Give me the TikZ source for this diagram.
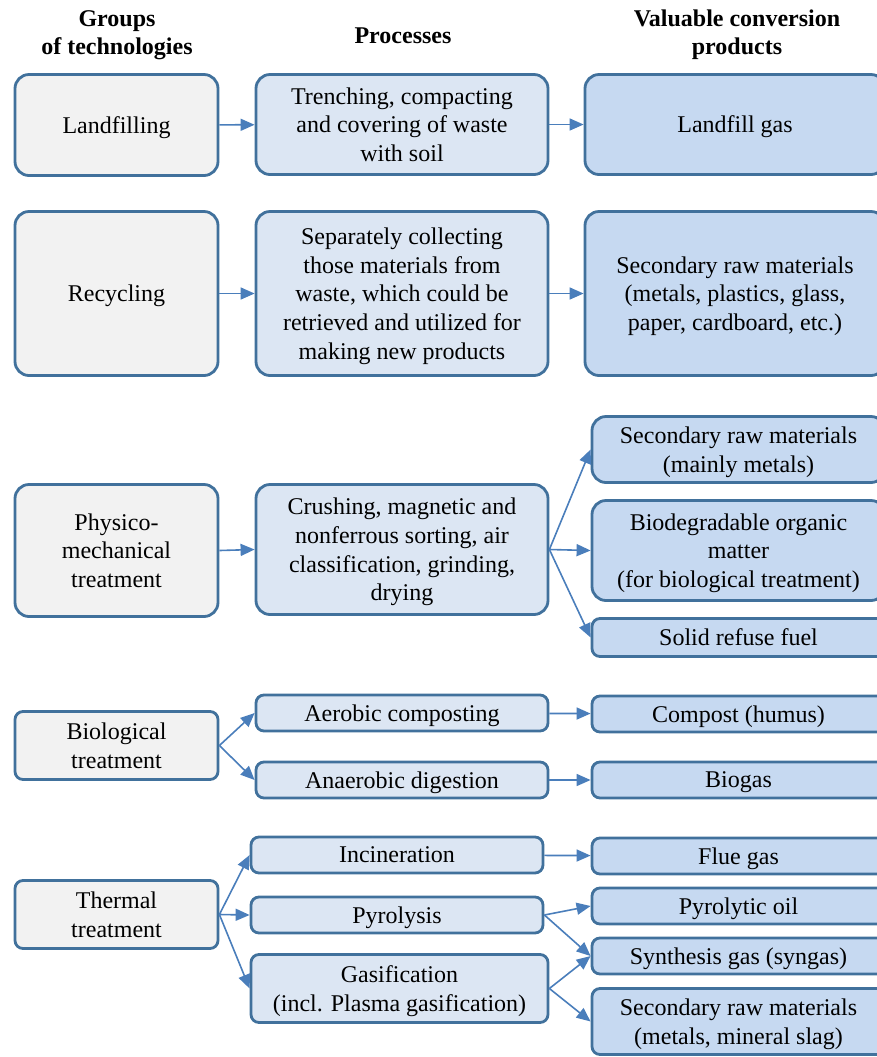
\documentclass[tikz,border=0pt]{standalone}
\usepackage{fontspec}
\setmainfont{Liberation Serif}
\usepackage{tikz}
\usetikzlibrary{arrows.meta, positioning}

\definecolor{boxline}{RGB}{65,113,156}
\definecolor{arrowcol}{RGB}{74,126,187}
\definecolor{techfill}{RGB}{242,242,242}
\definecolor{procfill}{RGB}{220,230,243}
\definecolor{prodfill}{RGB}{198,217,241}

\begin{document}
\begin{tikzpicture}[
        x=0.5pt, y=-0.5pt,
        every node/.style={font=\fontsize{12}{14.3}\selectfont, align=center, inner sep=2pt},
        box/.style={rectangle, draw=boxline, line width=1.4pt, rounded corners=7pt, text depth=0pt},
        techbox/.style={box, fill=techfill},
        procbox/.style={box, fill=procfill},
        prodbox/.style={box, fill=prodfill},
        small/.style={rounded corners=4pt},
        header/.style={font=\fontsize{12}{14}\selectfont\bfseries},
        arrow/.style={-{Triangle[length=7pt, width=6pt]}, line width=0.8pt, arrowcol}
    ]
        \useasboundingbox (0,0) rectangle (877,1057);

        % headers
        \node[header] (h1) at (117,35) {Groups\\of technologies};
        \node[header] (h2) at (403,36) {Processes};
        \node[header] (h3) at (737,35) {Valuable conversion\\products};

        % landfilling
        \node[techbox, minimum width=101.5pt, minimum height=50.5pt] (land) at (116.5,125) {Landfilling};
        \node[procbox, minimum width=146pt, minimum height=50pt] (landproc) at (402,124.5) {Trenching, compacting\\and covering of waste\\with soil};
        \node[prodbox, minimum width=150pt, minimum height=50pt] (landprod) at (735,124.5) {Landfill gas};

        % recycling
        \node[techbox, minimum width=101.5pt, minimum height=82pt] (recy) at (116.5,293.5) {Recycling};
        \node[procbox, minimum width=146pt, minimum height=82pt] (recyproc) at (402,293.5) {Separately collecting\\those materials from\\waste, which could be\\retrieved and utilized for\\making new products};
        \node[prodbox, minimum width=150pt, minimum height=82pt] (recyprod) at (735,293.5) {Secondary raw materials\\(metals, plastics, glass,\\paper, cardboard, etc.)};

        % physico-mechanical
        \node[techbox, minimum width=101.5pt, minimum height=66pt] (phys) at (116.5,550.5) {Physico-\\mechanical\\treatment};
        \node[procbox, minimum width=146pt, minimum height=65pt] (physproc) at (402,549.5) {Crushing, magnetic and\\nonferrous sorting, air\\classification, grinding,\\drying};
        \node[prodbox, minimum width=146.5pt, minimum height=33pt] (metals) at (738.5,449.5) {Secondary raw materials\\(mainly metals)};
        \node[prodbox, minimum width=146.5pt, minimum height=50pt] (organic) at (738.5,550.5) {Biodegradable organic\\matter\\(for biological treatment)};
        \node[prodbox, small, minimum width=146.5pt, minimum height=19pt] (srf) at (738.5,637.5) {Solid refuse fuel};

        % biological
        \node[techbox, small, minimum width=101.5pt, minimum height=34pt] (bio) at (116.5,745.5) {Biological\\treatment};
        \node[procbox, small, minimum width=146pt, minimum height=18pt] (aerobic) at (402,713) {Aerobic composting};
        \node[procbox, small, minimum width=146pt, minimum height=18pt] (anaerobic) at (402,780) {Anaerobic digestion};
        \node[prodbox, small, minimum width=146.5pt, minimum height=18pt] (compost) at (738.5,714) {Compost (humus)};
        \node[prodbox, small, minimum width=146.5pt, minimum height=18pt] (biogas) at (738.5,780) {Biogas};

        % thermal
        \node[techbox, small, minimum width=101.5pt, minimum height=34pt] (therm) at (116.5,914.5) {Thermal\\treatment};
        \node[procbox, small, minimum width=146pt, minimum height=18pt] (incin) at (397,855) {Incineration};
        \node[procbox, small, minimum width=146pt, minimum height=18pt] (pyro) at (397,915) {Pyrolysis};
        \node[procbox, small, minimum width=148.5pt, minimum height=34pt] (gasif) at (399.5,988.5) {Gasification\\(incl. Plasma gasification)};
        \node[prodbox, small, minimum width=146.5pt, minimum height=18pt] (flue) at (738.5,856) {Flue gas};
        \node[prodbox, small, minimum width=146.5pt, minimum height=18pt] (pyroil) at (738.5,906) {Pyrolytic oil};
        \node[prodbox, small, minimum width=146.5pt, minimum height=18pt] (syngas) at (738.5,956) {Synthesis gas (syngas)};
        \node[prodbox, small, minimum width=146.5pt, minimum height=33pt] (slag) at (738.5,1021.5) {Secondary raw materials\\(metals, mineral slag)};

        % connectors
        \draw[arrow] (land) -- (landproc);
        \draw[arrow] (landproc) -- (landprod);
        \draw[arrow] (recy) -- (recyproc);
        \draw[arrow] (recyproc) -- (recyprod);
        \draw[arrow] (phys.east) -- (physproc.west);
        \draw[arrow] (physproc.east) -- (metals.west);
        \draw[arrow] (physproc.east) -- (organic.west);
        \draw[arrow] (physproc.east) -- (srf.west);
        \draw[arrow] (bio.east) -- (aerobic.west);
        \draw[arrow] (bio.east) -- (anaerobic.west);
        \draw[arrow] (aerobic) -- (compost);
        \draw[arrow] (anaerobic) -- (biogas);
        \draw[arrow] (therm.east) -- (incin.west);
        \draw[arrow] (therm.east) -- (pyro.west);
        \draw[arrow] (therm.east) -- (gasif.west);
        \draw[arrow] (incin) -- (flue);
        \draw[arrow] (pyro.east) -- (pyroil.west);
        \draw[arrow] (pyro.east) -- (syngas.west);
        \draw[arrow] (gasif.east) -- (syngas.west);
        \draw[arrow] (gasif.east) -- (slag.west);
    \end{tikzpicture}
\end{document}
